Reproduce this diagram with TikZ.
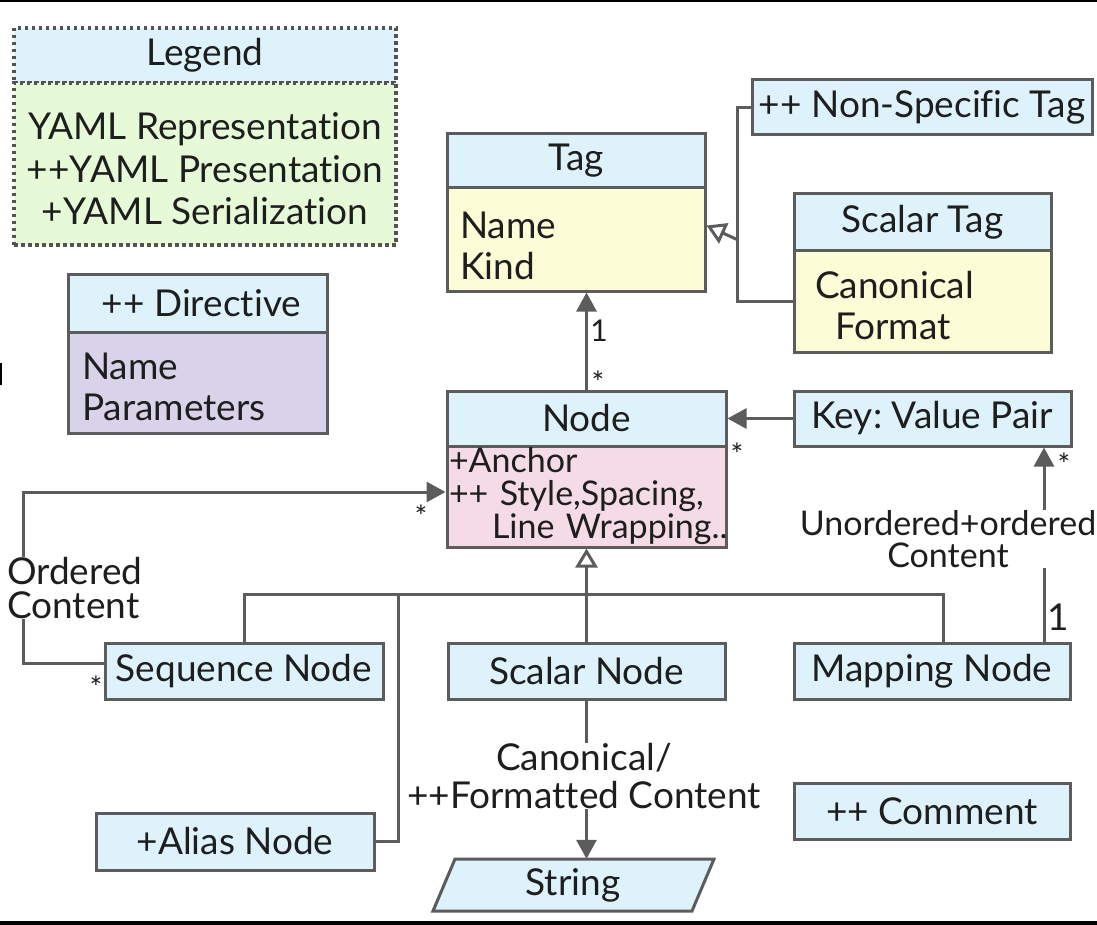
\documentclass[tikz,border=0pt]{standalone}
\usepackage{fontspec}
\setmainfont{Lato}[Ligatures={NoCommon,NoContextual}]
\frenchspacing
\usetikzlibrary{arrows.meta}
\definecolor{hdr}{HTML}{DDF2FB}
\definecolor{yel}{HTML}{FCFCD6}
\definecolor{lav}{HTML}{D8D3E8}
\definecolor{pnk}{HTML}{F4DBE6}
\definecolor{grn}{HTML}{E6FAD8}
\definecolor{lc}{HTML}{5C5C5C}
\definecolor{tc}{HTML}{1E1E1E}
\newcommand{\fsz}{\fontsize{37}{41}\selectfont}
\begin{document}
\begin{tikzpicture}[x=1pt,y=-1pt,
  conn/.style={draw=lc, line width=3pt},
  box/.style={draw=lc, line width=3pt, fill=hdr, inner sep=0pt, text=tc, font=\fsz},
  legbox/.style={box, draw=lc!90!black, line width=4pt, dash pattern=on 3.5pt off 3.5pt},
  arr/.style={conn, -{Triangle[length=19pt,width=20pt]}},
  inh/.style={conn, -{Triangle[open,length=19pt,width=22pt,fill=white]}},
  lbl/.style={text=tc, font=\fontsize{37}{34}\selectfont, inner sep=0pt, fill=white, align=center},
  mult/.style={text=tc, font=\fontsize{30}{30}\selectfont, inner sep=0pt}]
\useasboundingbox (0,0) rectangle (1097,925);
\fill[black] (0,0) rectangle (1097,2);
\fill[black] (0,921) rectangle (1097,925);
\fill[black] (0,363) rectangle (2,385);

% Legend
\node[legbox, minimum width=382pt, minimum height=55pt] (leg) at (205,55.5) {Legend};
\node[legbox, fill=grn, minimum width=382pt, minimum height=162pt, align=center, font=\fontsize{37}{42.5}\selectfont] (legb) at (205,164) {\rule{0pt}{37pt}YAML Representation\\++YAML Presentation\\+YAML Serialization};

% Tag
\node[box, minimum width=258pt, minimum height=54pt] (tag) at (576,161) {Tag};
\node[box, fill=yel, minimum height=103pt, text width=232pt, inner xsep=13pt, align=left] (tagb) at (576,239.5) {\rule{0pt}{40pt}Name\\Kind};

% Non-specific tag
\node[box, minimum width=340pt, minimum height=55pt] (nst) at (922,107.5) {++ Non-Specific Tag};

% Scalar tag
\node[box, minimum width=257pt, minimum height=57pt] (stag) at (922.5,222.5) {Scalar Tag};
\node[box, fill=yel, minimum height=101pt, text width=215pt, inner xsep=21pt, align=left] (stagb) at (922.5,301.5) {\rule{0pt}{36pt}Canonical\\\hspace*{20pt}Format};

% Directive
\node[box, minimum width=259pt, minimum height=57pt] (dir) at (197.5,303.5) {\hspace*{8pt}++ Directive};
\node[box, fill=lav, minimum height=101pt, text width=231pt, inner xsep=14pt, align=left] (dirb) at (197.5,382.5) {\rule{0pt}{35pt}Name\\Parameters};

% Node
\node[box, minimum width=279pt, minimum height=55pt] (node) at (586.5,418.5) {Node};
\node[box, fill=pnk, minimum height=101pt, text width=275pt, inner xsep=2pt, align=left, font=\fontsize{34}{33}\selectfont] (nodeb) at (586.5,496.5) {\mbox{+Anchor}\\\mbox{++ Style,Spacing,}\\\mbox{\hspace*{43pt}Line Wrapping..}};

% Key value pair
\node[box, minimum width=277pt, minimum height=55pt] (key) at (932.5,418.5) {Key: Value Pair};

% Sub nodes
\node[box, minimum width=278pt, minimum height=56pt] (seq) at (244,671) {Sequence Node};
\node[box, minimum width=277pt, minimum height=56pt] (scal) at (586.5,671) {Scalar Node};
\node[box, minimum width=276pt, minimum height=56pt] (map) at (932,671) {Mapping Node};
\node[box, minimum width=278pt, minimum height=57pt] (alias) at (235,841.5) {+Alias Node};
\node[box, minimum width=276pt, minimum height=56pt] (com) at (932,811) {++ Comment};

% String parallelogram
\draw[draw=lc, line width=3pt, fill=hdr] (455,859) -- (714,859) -- (692,911) -- (433,911) -- cycle;
\node[text=tc, font=\fsz, inner sep=0pt, minimum height=52pt, minimum width=200pt] (str) at (573,885) {String};

% Tag generalization
\coordinate (tj) at (737,0);
\draw[conn] (nst.west) -| (tj |- stagb.west) -- (stagb.west);
\draw[inh] (tj |- tagb.west) -- ([yshift=14pt]tagb.east);

% Node -> Tag
\draw[arr] (node.north) -- (node.north |- tagb.south);
\node[mult] at (599,331) {1};
\node[mult] at (598,382) {*};

% Key -> Node
\draw[arr] (key.west) -- (node.east);
\node[mult] at (737,454) {*};

% Mapping -> Key
\coordinate (mk) at (1044,0);
\draw[arr] (map.north -| mk) -- (key.south -| mk);
\node[lbl, font=\fontsize{34}{32}\selectfont] at (948,539) {Unordered+ordered\\Content};
\node[mult] at (1064,464) {*};
\node[mult, font=\fsz] at (1058,617) {1};

% Inheritance tree
\coordinate (bus) at (587,594);
\coordinate (ab) at (398,594);
\coordinate (mb) at (943,0);
\draw[inh] (scal.north) -- (node.north |- nodeb.south);
\draw[conn] (seq.north) |- (bus);
\draw[conn] (map.north -| mb) |- (bus);
\draw[conn] (alias.east) -| (ab);

% Ordered content
\coordinate (oc1) at (23,492);
\draw[arr] ([yshift=8pt]seq.west) -| (oc1) -- (nodeb.west |- oc1);
\node[lbl, anchor=west, align=left] at (7,588) {Ordered\\Content};
\node[mult] at (421,516) {*};
\node[mult] at (96,687) {*};

% Scalar -> String
\draw[arr] (scal.south) -- (scal.south |- str.north);
\node[lbl, font=\fontsize{37}{38}\selectfont] at (584,776) {Canonical/\\++Formatted Content};
\end{tikzpicture}
\end{document}
